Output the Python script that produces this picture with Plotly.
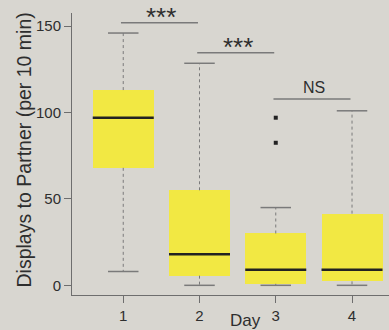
import plotly.graph_objects as go

days = [1, 2, 3, 4]
day_labels = ["1", "2", "3", "4"]
q1 = [68, 5.6, 0.9, 2.3]
median = [97, 18, 9, 9]
q3 = [113, 55, 30, 41.5]
lower_w = [8, 0, 0, 0]
upper_w = [146, 128.5, 45, 101]
outlier_x = [3, 3]
outlier_y = [97, 82.5]

pairs = [(1, 2), (2, 3), (3, 4)]
pair_heights = [152, 134.6, 107.8]
pair_labels = ["***", "***", "NS"]

BG = "#d8d6d0"
YEL = "#f2e843"
GRAY = "#7a7a7a"
TXT = "#2e2e2e"
BW = 0.8
CW = 0.2
FONT = "Liberation Sans"

fig = go.Figure()

# whiskers (dotted)
wx, wy = [], []
for d, a, b, lo, hi in zip(days, q1, q3, lower_w, upper_w):
    wx += [d, d, None, d, d, None]
    wy += [b, hi, None, a, lo, None]
fig.add_trace(go.Scatter(x=wx, y=wy, mode="lines",
                         line=dict(color=GRAY, width=1, dash="dot"),
                         hoverinfo="skip", showlegend=False))
# caps
cx, cy = [], []
for d, lo, hi in zip(days, lower_w, upper_w):
    cx += [d - CW, d + CW, None, d - CW, d + CW, None]
    cy += [hi, hi, None, lo, lo, None]
fig.add_trace(go.Scatter(x=cx, y=cy, mode="lines",
                         line=dict(color=GRAY, width=1.5),
                         hoverinfo="skip", showlegend=False))
# boxes
fig.add_trace(go.Bar(x=days, y=[b - a for a, b in zip(q1, q3)], base=q1,
                     width=BW, marker=dict(color=YEL, line=dict(width=0)),
                     showlegend=False))
# medians
mx, my = [], []
for d, m in zip(days, median):
    mx += [d - BW / 2, d + BW / 2, None]
    my += [m, m, None]
fig.add_trace(go.Scatter(x=mx, y=my, mode="lines",
                         line=dict(color="#222222", width=2.5),
                         hoverinfo="skip", showlegend=False))
# outliers
fig.add_trace(go.Scatter(x=outlier_x, y=outlier_y, mode="markers",
                         marker=dict(symbol="square", size=4, color="#222222"),
                         showlegend=False))
# significance bars
for (a, b), h, lab in zip(pairs, pair_heights, pair_labels):
    fig.add_trace(go.Scatter(x=[a - 0.03, b - 0.02], y=[h, h], mode="lines",
                             line=dict(color=GRAY, width=1.5),
                             hoverinfo="skip", showlegend=False))
    if lab == "NS":
        fig.add_annotation(x=(a + b) / 2, y=h, xref="x", yref="y", text=lab,
                           showarrow=False, yanchor="bottom", yshift=1,
                           font=dict(size=16, color=TXT, family=FONT))
    else:
        fig.add_annotation(x=(a + b) / 2, y=h, xref="x", yref="y", text=lab,
                           showarrow=False, yanchor="middle", yshift=6,
                           font=dict(size=26, color=TXT, family=FONT))

fig.add_annotation(x=2.6, y=-0.089, xref="x", yref="paper", text="Day",
                   showarrow=False, yanchor="middle",
                   font=dict(size=17, color=TXT, family=FONT))
fig.add_annotation(x=-0.150, y=0.514, xref="paper", yref="paper",
                   xanchor="center", yanchor="middle",
                   text="Displays to Partner (per 10 min)", textangle=-90,
                   showarrow=False, font=dict(size=19.5, color=TXT, family=FONT))

fig.update_layout(
    width=389, height=330,
    margin=dict(l=72, r=0, t=13, b=35),
    paper_bgcolor=BG, plot_bgcolor=BG,
    bargap=0,
    font=dict(family=FONT, color=TXT, size=15),
    xaxis=dict(range=[0.328, 4.485], tickvals=days, ticktext=day_labels,
               showline=True, linecolor="#6e6e6e", linewidth=1,
               ticks="outside", ticklen=7, tickcolor="#6e6e6e",
               showgrid=False, zeroline=False, fixedrange=True,
               tickfont=dict(size=15, color=TXT)),
    yaxis=dict(range=[-5.6, 157.6], tickvals=[0, 50, 100, 150],
               showline=True, linecolor="#6e6e6e", linewidth=1,
               ticks="outside", ticklen=7, tickcolor="#6e6e6e",
               showgrid=False, zeroline=False, fixedrange=True,
               tickfont=dict(size=15, color=TXT)),
)

fig.write_html("out.html", config={"displayModeBar": False},
               post_script="document.body.style.margin='0';document.body.style.background='%s';" % BG)
